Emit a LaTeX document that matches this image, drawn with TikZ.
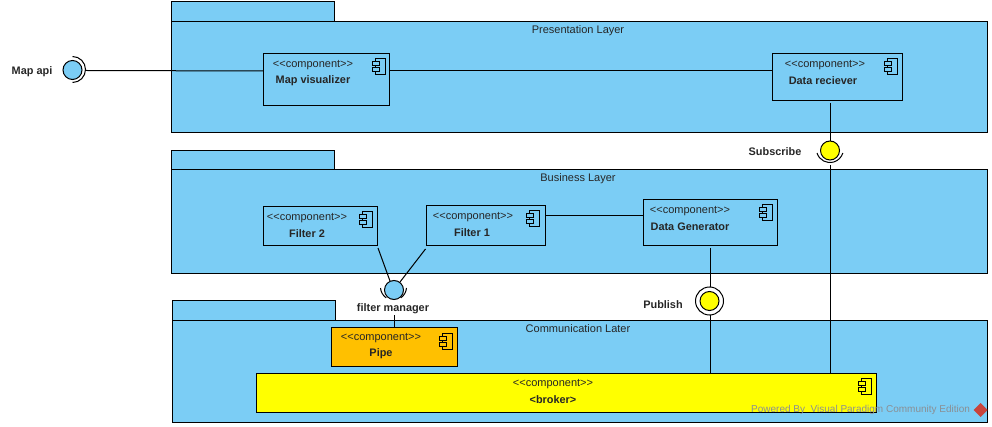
\documentclass[tikz,border=0pt]{standalone}
\usepackage{fontspec}
\setmainfont{Liberation Sans}
\definecolor{pkgblue}{HTML}{7BCDF5}
\definecolor{pipeorange}{HTML}{FFC000}
\definecolor{compyellow}{HTML}{FFFF00}
\definecolor{markgray}{HTML}{8A8F94}
\definecolor{markred}{HTML}{C8443C}
\newcommand{\stereotxt}{{<}{<}component{>}{>}}
\tikzset{
  pkg/.style={draw=black,fill=pkgblue,line width=1pt,inner sep=0pt,outer sep=0pt,anchor=north west},
  comp/.style={draw=black,fill=pkgblue,line width=1pt,inner sep=0pt,outer sep=0pt,anchor=north west},
  stereo/.style={font=\fontsize{11}{12}\selectfont,text=black!85,inner sep=0pt},
  cname/.style={font=\fontsize{10.9}{12}\selectfont\bfseries,text=black!85,inner sep=0pt},
  pkgtitle/.style={font=\fontsize{11}{12}\selectfont,text=black!85,inner sep=0pt},
  iface/.style={circle,draw=black,line width=1pt,minimum size=19pt,inner sep=0pt,outer sep=0pt},
  conn/.style={line width=1pt,draw=black},
  socket/.style={line width=1pt,draw=black},
  pics/compicon/.style={code={
    \draw[line width=1pt,fill=none] (3,0) rectangle (13,16);
    \draw[line width=1pt,fill=#1] (0,3) rectangle (7,7);
    \draw[line width=1pt,fill=#1] (0,9) rectangle (7,13);
  }}
}
\begin{document}
\begin{tikzpicture}[x=1pt,y=-1pt]
\useasboundingbox (0,0) rectangle (992,427);
% packages
\node[pkg,minimum width=163pt,minimum height=20pt] (presTab) at (171,2) {};
\node[pkg,minimum width=816pt,minimum height=111pt] (pres) at (171,22) {};
\node[pkg,minimum width=163pt,minimum height=19pt] (busTab) at (171,151) {};
\node[pkg,minimum width=816pt,minimum height=104pt] (bus) at (171,170) {};
\node[pkg,minimum width=163pt,minimum height=20pt] (comTab) at (172,300) {};
\node[pkg,minimum width=815pt,minimum height=102pt] (com) at (172,320) {};
\node[pkgtitle] (presT) at (578,30.5) {Presentation Layer};
\node[pkgtitle] (busT) at (578,178.5) {Business Layer};
\node[pkgtitle] (comT) at (578,328.5) {Communication Later};
% connectors
\coordinate (f2end) at (378,248);
\coordinate (f1end) at (425.5,249);
\coordinate (datarecOut) at (830,103);
\coordinate (datarecIn) at (830,141);
\coordinate (subOut) at (830,165);
\coordinate (subIn) at (830,373);
\coordinate (genOut) at (710,248);
\coordinate (genIn) at (710,287);
\coordinate (pubOut) at (710,315);
\coordinate (pubIn) at (710,373);
\coordinate (fmOut) at (394,315);
\coordinate (fmIn) at (394,327);
\coordinate (mapOut) at (86,70.5);
\coordinate (mapIn) at (263,71);
\coordinate (f2in) at (390,281);
\coordinate (f1in) at (400,282);
\coordinate (visOut) at (389,71);
\coordinate (recIn) at (772,71);
\coordinate (f1Out) at (545,216);
\coordinate (genL) at (643,216);
\draw[conn] (mapOut) -- (mapIn);
\draw[conn] (visOut) -- (recIn);
\draw[conn] (f1Out) -- (genL);
\draw[conn] (datarecOut) -- (datarecIn);
\draw[conn] (subOut) -- (subIn);
\draw[conn] (genOut) -- (genIn);
\draw[conn] (pubOut) -- (pubIn);
\draw[conn] (fmOut) -- (fmIn);
\draw[conn] (f2end) -- (f2in);
\draw[conn] (f1end) -- (f1in);
% interfaces
\node[iface,fill=pkgblue] (mapapi) at (72.5,70) {};
\node[iface,fill=compyellow] (subscribe) at (830,150.5) {};
\node[iface,fill=pkgblue] (filterm) at (394,290) {};
\node[iface,fill=compyellow] (publish) at (709.5,301) {};
% components
\node[comp,minimum width=126pt,minimum height=52pt] (mapvis) at (263,54) {};
\node[comp,minimum width=130pt,minimum height=47pt] (datarec) at (772,54) {};
\node[comp,minimum width=114pt,minimum height=39pt] (filter2) at (263,207) {};
\node[comp,minimum width=119pt,minimum height=40pt] (filter1) at (426,206) {};
\node[comp,minimum width=134pt,minimum height=46pt] (datagen) at (643,200) {};
\node[comp,fill=pipeorange,minimum width=126pt,minimum height=39pt] (pipe) at (331,327) {};
\node[comp,fill=compyellow,minimum width=620pt,minimum height=39pt] (broker) at (256,373) {};
% icons
\pic at (372,59) {compicon=pkgblue};
\pic at (884,59) {compicon=pkgblue};
\pic at (359,212) {compicon=pkgblue};
\pic at (526,211) {compicon=pkgblue};
\pic at (759,205) {compicon=pkgblue};
\pic at (439,333) {compicon=pipeorange};
\pic at (858,378) {compicon=compyellow};
% component text
\node[stereo] (s1) at (313,65) {\stereotxt};
\node[cname] (n1) at (313,80.5) {Map visualizer};
\node[stereo] (s2) at (825,65) {\stereotxt};
\node[cname] (n2) at (823,80.5) {Data reciever};
\node[stereo] (s3) at (307,218.5) {\stereotxt};
\node[cname] (n3) at (307,233.5) {Filter 2};
\node[stereo] (s4) at (473,217.5) {\stereotxt};
\node[cname] (n4) at (472,232.5) {Filter 1};
\node[stereo] (s5) at (690,211.5) {\stereotxt};
\node[cname] (n5) at (690,226.5) {Data Generator};
\node[stereo] (s6) at (381,338.5) {\stereotxt};
\node[cname] (n6) at (381,353.5) {Pipe};
\node[stereo] (s7) at (553,384.5) {\stereotxt};
\node[cname] (n7) at (553,399.5) {<broker>};
% interface labels
\node[cname] (l1) at (32,71.5) {Map api};
\node[cname] (l2) at (775,151.5) {Subscribe};
\node[cname] (l3) at (663,304.5) {Publish};
\node[cname] (l4) at (393,308.5) {filter manager};
% sockets
\draw[socket] (72.5,56.5) arc[start angle=-90,end angle=90,radius=13];
\draw[socket] (817,153) arc[start angle=163,end angle=17,radius=13.5];
\draw[socket] (380.5,288) arc[start angle=175,end angle=125,radius=13.5];
\draw[socket] (406.5,288) arc[start angle=5,end angle=55,radius=13.5];
\draw[socket] (709.5,301) circle[radius=14];
% watermark
\node[font=\fontsize{10}{12}\selectfont,text=markgray,inner sep=0pt,anchor=west] (wm) at (751,410) {Powered By\ \ Visual Paradigm Community Edition};
\fill[markred] (980.5,403) -- (987.5,410) -- (980.5,417) -- (973.5,410) -- cycle;
\end{tikzpicture}
\end{document}
